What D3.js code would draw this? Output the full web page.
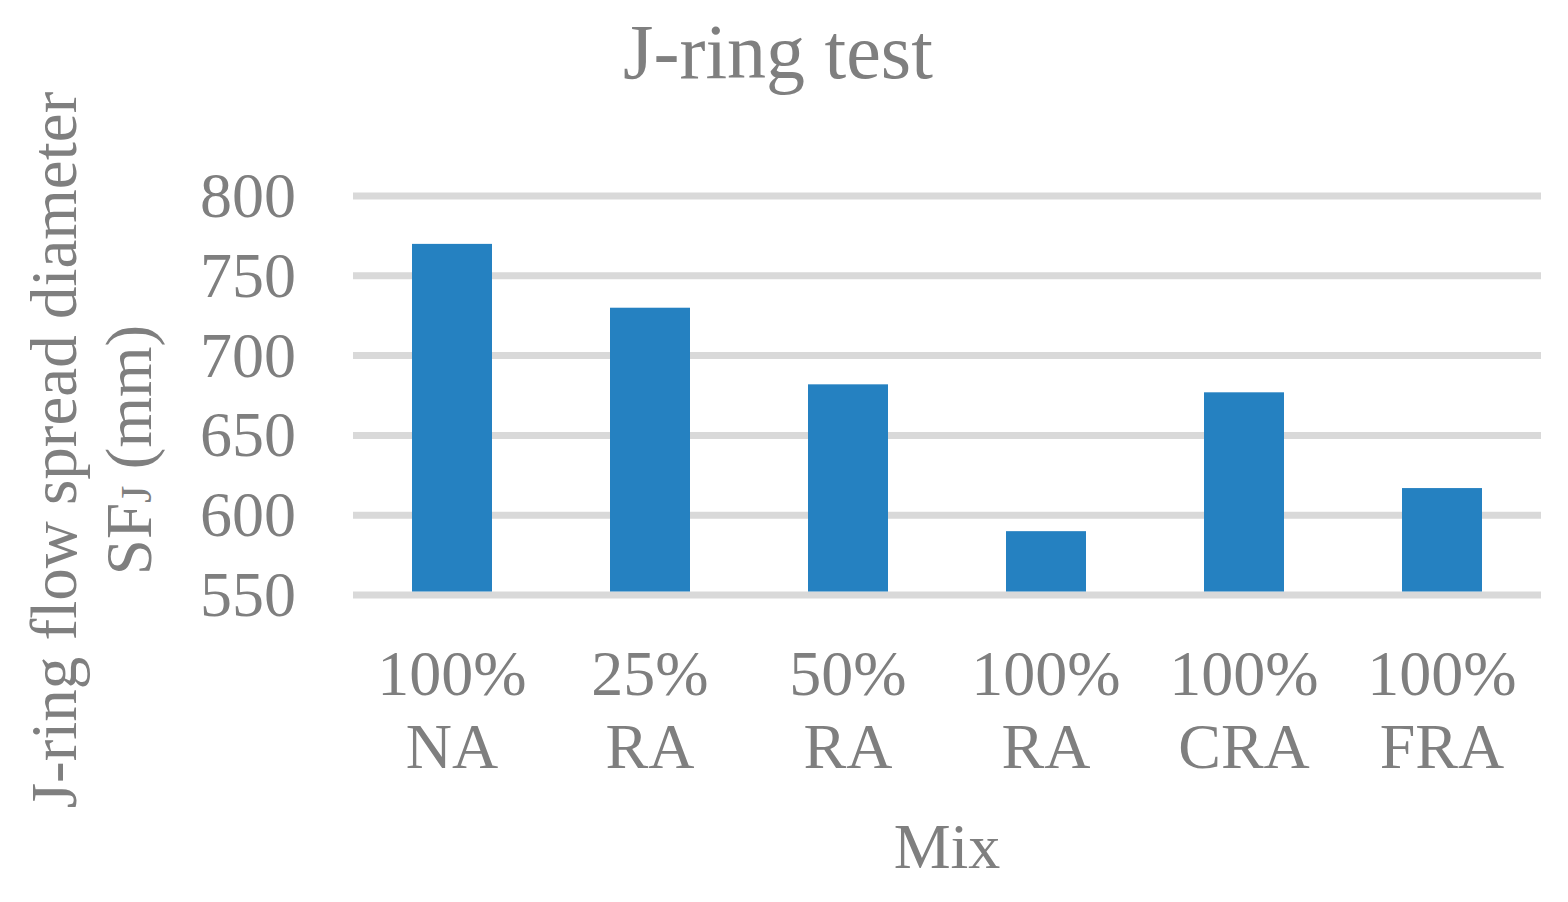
<!DOCTYPE html>
<html>
<head>
<meta charset="utf-8">
<script src="https://cdn.jsdelivr.net/npm/d3@7"></script>
<style>
  body { margin: 0; background: #fff; }
  text { font-family: "Liberation Serif", "Times New Roman", serif; fill: #7f7f7f; }
</style>
</head>
<body>
<div id="chart"></div>
<script>
const mixTop = ['100%', '25%', '50%', '100%', '100%', '100%'];
const mixBottom = ['NA', 'RA', 'RA', 'RA', 'CRA', 'FRA'];
const spread = [770, 730, 682, 590, 677, 617];
const yTicks = [550, 600, 650, 700, 750, 800];

const W = 1568, H = 902;
const margin = { top: 196, right: 27, bottom: 307, left: 353 };
const width = W - margin.left - margin.right;
const height = H - margin.top - margin.bottom;
const fontSize = 64;

const svg = d3.select('#chart')
  .append('svg')
  .attr('width', W)
  .attr('height', H);

const g = svg.append('g')
  .attr('transform', `translate(${margin.left},${margin.top})`);

const cats = mixTop.map((d, i) => i);

const x = d3.scaleBand()
  .domain(cats)
  .range([0, width])
  .paddingInner(0.596)
  .paddingOuter(0.298);

const y = d3.scaleLinear()
  .domain([550, 800])
  .range([height, 0]);

// gridlines
g.append('g')
  .selectAll('line')
  .data(yTicks)
  .enter()
  .append('line')
  .attr('x1', 0)
  .attr('x2', width)
  .attr('y1', d => y(d))
  .attr('y2', d => y(d))
  .attr('stroke', '#d9d9d9')
  .attr('stroke-width', 7);

// bars
g.append('g')
  .selectAll('rect')
  .data(spread)
  .enter()
  .append('rect')
  .attr('x', (d, i) => x(i))
  .attr('y', d => y(d))
  .attr('width', x.bandwidth())
  .attr('height', d => y(550) - 3.5 - y(d))
  .attr('fill', '#2581c1');

// y axis labels
const yAxis = g.append('g')
  .call(d3.axisLeft(y).tickValues(yTicks).tickSize(0).tickPadding(57));
yAxis.select('.domain').remove();
yAxis.selectAll('text')
  .style('font-size', fontSize + 'px')
  .style('font-family', '"Liberation Serif", serif')
  .attr('fill', '#7f7f7f')
  .attr('dy', '0.32em');

// x axis labels (two lines)
const xLab = g.append('g')
  .selectAll('text')
  .data(cats)
  .enter()
  .append('text')
  .attr('text-anchor', 'middle')
  .attr('x', d => x(d) + x.bandwidth() / 2)
  .style('font-size', fontSize + 'px');
xLab.append('tspan')
  .attr('x', d => x(d) + x.bandwidth() / 2)
  .attr('y', 499)
  .text(d => mixTop[d]);
xLab.append('tspan')
  .attr('x', d => x(d) + x.bandwidth() / 2)
  .attr('y', 572)
  .text(d => mixBottom[d]);

// title
svg.append('text')
  .attr('x', 778)
  .attr('y', 78)
  .attr('text-anchor', 'middle')
  .style('font-size', '78px')
  .text('J-ring test');

// x axis title
svg.append('text')
  .attr('x', 947)
  .attr('y', 868)
  .attr('text-anchor', 'middle')
  .style('font-size', fontSize + 'px')
  .text('Mix');

// y axis title
const yTitle = svg.append('text')
  .attr('transform', 'translate(0,450) rotate(-90)')
  .attr('text-anchor', 'middle')
  .style('font-size', '65px');
yTitle.append('tspan')
  .attr('x', 0)
  .attr('y', 76)
  .text('J-ring flow spread diameter');
const l2 = yTitle.append('tspan')
  .attr('x', 0)
  .attr('y', 151)
  .text('SF');
l2.append('tspan')
  .style('font-size', '45px')
  .text('J');
l2.append('tspan')
  .text(' (mm)');
</script>
</body>
</html>
